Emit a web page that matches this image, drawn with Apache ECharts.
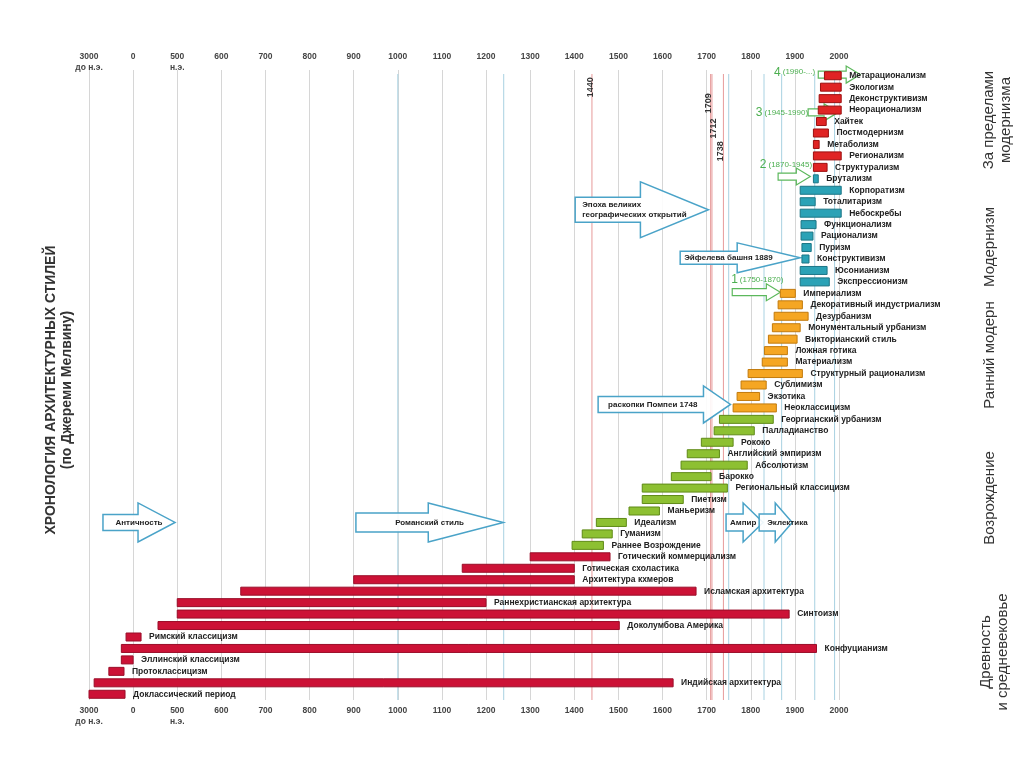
<!DOCTYPE html>
<html><head><meta charset="utf-8">
<script src="https://cdn.jsdelivr.net/npm/echarts@6/dist/echarts.min.js"></script>
<style>html,body{margin:0;padding:0;background:#fff}#c{width:1024px;height:767px}</style>
</head><body><div id="c"></div>
<script>
// ---------- DATA ----------
const tickYears = [-3000, 0, 500, 600, 700, 800, 900, 1000, 1100, 1200, 1300, 1400, 1500, 1600, 1700, 1800, 1900, 2000];
const tickLabels = ['3000\nдо н.э.', '0', '500\nн.э.', '600', '700', '800', '900', '1000', '1100', '1200', '1300', '1400', '1500', '1600', '1700', '1800', '1900', '2000'];

const groupNames = ['Древность\nи средневековье', 'Возрождение', 'Ранний модерн', 'Модернизм', 'За пределами\nмодернизма'];

// listed top to bottom
const styleNames = [
  'Метарационализм', 'Экологизм', 'Деконструктивизм', 'Неорационализм', 'Хайтек', 'Постмодернизм', 'Метаболизм', 'Регионализм', 'Структурализм',
  'Брутализм', 'Корпоратизм', 'Тоталитаризм', 'Небоскребы', 'Функционализм', 'Рационализм', 'Пуризм', 'Конструктивизм', 'Юсонианизм', 'Экспрессионизм',
  'Империализм', 'Декоративный индустриализм', 'Дезурбанизм', 'Монументальный урбанизм', 'Викторианский стиль', 'Ложная готика', 'Материализм', 'Структурный рационализм', 'Сублимизм', 'Экзотика', 'Неоклассицизм',
  'Георгианский урбанизм', 'Палладианство', 'Рококо', 'Английский эмпиризм', 'Абсолютизм', 'Барокко', 'Региональный классицизм', 'Пиетизм', 'Маньеризм', 'Идеализм', 'Гуманизм', 'Раннее Возрождение',
  'Готический коммерциализм', 'Готическая схоластика', 'Архитектура кхмеров', 'Исламская архитектура', 'Раннехристианская архитектура', 'Синтоизм', 'Доколумбова Америка', 'Римский классицизм', 'Конфуцианизм', 'Эллинский классицизм', 'Протоклассицизм', 'Индийская архитектура', 'Доклассический период'
];
const styleStart = [
  1967, 1958, 1955, 1953, 1949, 1942, 1942, 1942, 1942,
  1942, 1912, 1912, 1912, 1914, 1914, 1916, 1916, 1912, 1912,
  1867, 1862, 1853, 1849, 1840, 1831, 1826, 1794, 1778, 1769, 1760,
  1729, 1717, 1688, 1656, 1642, 1620, 1554, 1554, 1524, 1450, 1418, 1395,
  1300, 1146, 900, 644, 500, 500, 282, -480, -800, -800, -1650, -2650, -3000
];
const styleEnd = [
  2005, 2005, 2005, 2005, 1971, 1976, 1955, 2005, 1973,
  1953, 2005, 1946, 2005, 1948, 1941, 1937, 1932, 1973, 1978,
  1901, 1917, 1930, 1912, 1905, 1883, 1883, 1917, 1835, 1820, 1858,
  1851, 1808, 1760, 1729, 1792, 1710, 1747, 1647, 1593, 1518, 1486, 1466,
  1481, 1400, 1400, 1676, 1200, 1887, 1502, 90, 1949, 0, -620, 1624, -550
];
const styleGroup = [
  4, 4, 4, 4, 4, 4, 4, 4, 4,
  3, 3, 3, 3, 3, 3, 3, 3, 3, 3,
  2, 2, 2, 2, 2, 2, 2, 2, 2, 2, 2,
  1, 1, 1, 1, 1, 1, 1, 1, 1, 1, 1, 1,
  0, 0, 0, 0, 0, 0, 0, 0, 0, 0, 0, 0, 0
];

// marked years
const redLineYears = [1440, 1709, 1712, 1738];
const redLineLabelRows = [53.0, 51.6, 49.4, 47.4];
const blueLineYears = [1000, 1240, 1750, 1830, 1870, 1945, 1990];

// annotation arrows: text, start year, end year, row
const arrowTexts = ['Античность', 'Романский стиль', 'Эпоха великих\nгеографических открытий', 'Эйфелева башня 1889', 'раскопки Помпеи 1748', 'Ампир', 'Эклектика'];
const arrowStart = [-2050, 905, 1402, 1640, 1454, 1744, 1819];
const arrowEnd = [475, 1239, 1704, 1912, 1754, 1828, 1894];
const arrowRow = [15.0, 15.0, 42.3, 38.1, 25.3, 15.0, 15.0];

// period arrows (green)
const periodMain = ['4', '3', '2', '1'];
const periodSub = ['(1990-...)', '(1945-1990)', '(1870-1945)', '(1750-1870)'];
const periodArrowStart = [1953, 1930, 1862, 1758];
const periodArrowEnd = [2048, 1998, 1935, 1867];
const periodArrowRow = [54.1, 50.8, 45.2, 35.1];
const periodLabelYear = [1946, 1930, 1939, 1874];
const periodLabelRow = [54.3, 50.8, 46.2, 36.2];

// ---------- STYLE CONFIG ----------
const FONT = '"Liberation Sans", Arial, sans-serif';
const groupFill = ['#cc1236', '#8dc032', '#f5a623', '#2ba2b6', '#e02424'];
const groupStroke = ['#9a0d28', '#5f8a17', '#c27a0c', '#1b7585', '#9c1010'];
const redLineLabelShift = [-1, -2, 2, -3];
const arrowShape = [
  {bodyH: 16, headH: 39, headLen: 37, align: 'center'},
  {bodyH: 19, headH: 39, headLen: 75, align: 'center'},
  {bodyH: 25, headH: 56, headLen: 68, align: 'left', pad: 7},
  {bodyH: 13, headH: 30, headLen: 63, align: 'left', pad: 4},
  {bodyH: 16, headH: 37, headLen: 27, align: 'left', pad: 10},
  {bodyH: 17, headH: 39, headLen: 20, align: 'left', pad: 4},
  {bodyH: 17, headH: 39, headLen: 17, align: 'left', pad: 8}
];

function yearPos(y) {
  const t = tickYears;
  if (y <= t[0]) return (y - t[0]) / (t[1] - t[0]);
  for (let i = 0; i < t.length - 1; i++) {
    if (y <= t[i + 1]) return i + (y - t[i]) / (t[i + 1] - t[i]);
  }
  const n = t.length - 1;
  return n + (y - t[n]) / (t[n] - t[n - 1]);
}

const N = styleNames.length;
const barData = styleNames.map((n, i) => [yearPos(styleStart[i]), yearPos(styleEnd[i]), N - 1 - i, styleGroup[i]]);
const lineData = redLineYears.map((y, i) => [yearPos(y), redLineLabelRows[i], 1, String(y), redLineLabelShift[i]])
  .concat(blueLineYears.map(y => [yearPos(y), 0, 0, '', 0]));
const arrowData = arrowTexts.map((t, i) => [yearPos(arrowStart[i]), yearPos(arrowEnd[i]), arrowRow[i]]);
const periodData = periodMain.map((m, i) => [yearPos(periodArrowStart[i]), yearPos(periodArrowEnd[i]), periodArrowRow[i], yearPos(periodLabelYear[i]), periodLabelRow[i]]);

function arrowPoints(sx, ex, cy, bh, hh, hl) {
  const hs = ex - hl;
  return [[sx, cy - bh / 2], [hs, cy - bh / 2], [hs, cy - hh / 2], [ex, cy], [hs, cy + hh / 2], [hs, cy + bh / 2], [sx, cy + bh / 2]];
}

const chart = echarts.init(document.getElementById('c'), null, {renderer: 'canvas'});
const axisLabelBase = {
  fontFamily: FONT, fontSize: 8.5, fontWeight: 'bold', color: '#444', lineHeight: 11,
  interval: 0, formatter: v => tickLabels[Math.round(v)] || ''
};
chart.setOption({
  animation: false,
  backgroundColor: '#fff',
  grid: {left: 89, width: 750, top: 70, height: 630},
  xAxis: [
    {type: 'value', position: 'bottom', min: 0, max: 17, interval: 1,
     axisLine: {show: false}, axisTick: {show: false},
     splitLine: {show: true, lineStyle: {color: '#d6d6d6', width: 1}},
     axisLabel: Object.assign({margin: 5}, axisLabelBase)},
    {type: 'value', position: 'top', min: 0, max: 17, interval: 1,
     axisLine: {show: false}, axisTick: {show: false}, splitLine: {show: false},
     axisLabel: Object.assign({margin: 19, verticalAlign: 'top'}, axisLabelBase)}
  ],
  yAxis: {type: 'value', min: -0.5, max: 54.5, show: false},
  graphic: [
    {type: 'text', x: 51, y: 390, rotation: Math.PI / 2,
     style: {text: 'ХРОНОЛОГИЯ АРХИТЕКТУРНЫХ СТИЛЕЙ', align: 'center', verticalAlign: 'middle', fontFamily: FONT, fontSize: 14, fontWeight: 'bold', fill: '#333'}},
    {type: 'text', x: 67, y: 390, rotation: Math.PI / 2,
     style: {text: '(по Джереми Мелвину)', align: 'center', verticalAlign: 'middle', fontFamily: FONT, fontSize: 14, fontWeight: 'bold', fill: '#333'}},
    {type: 'text', x: 997, y: 120, rotation: Math.PI / 2,
     style: {text: groupNames[4], align: 'center', verticalAlign: 'middle', fontFamily: FONT, fontSize: 15, lineHeight: 17, fill: '#333'}},
    {type: 'text', x: 990, y: 247, rotation: Math.PI / 2,
     style: {text: groupNames[3], align: 'center', verticalAlign: 'middle', fontFamily: FONT, fontSize: 15, fill: '#333'}},
    {type: 'text', x: 990, y: 355, rotation: Math.PI / 2,
     style: {text: groupNames[2], align: 'center', verticalAlign: 'middle', fontFamily: FONT, fontSize: 15, fill: '#333'}},
    {type: 'text', x: 990, y: 498, rotation: Math.PI / 2,
     style: {text: groupNames[1], align: 'center', verticalAlign: 'middle', fontFamily: FONT, fontSize: 15, fill: '#333'}},
    {type: 'text', x: 994, y: 652, rotation: Math.PI / 2,
     style: {text: groupNames[0], align: 'center', verticalAlign: 'middle', fontFamily: FONT, fontSize: 15, lineHeight: 17, fill: '#333'}}
  ],
  series: [
    {
      type: 'custom', name: 'lines', z: 1, clip: false, silent: true,
      data: lineData,
      renderItem: (params, api) => {
        const top = api.coord([api.value(0), 54.5]);
        const bot = api.coord([api.value(0), -0.5]);
        const red = api.value(2) === 1;
        const children = [{type: 'line', shape: {x1: top[0], y1: top[1] + 4, x2: bot[0], y2: bot[1]},
          style: {stroke: red ? '#e69a9a' : '#a9d2e2', lineWidth: 1}}];
        if (red) {
          const lp = api.coord([api.value(0), api.value(1)]);
          children.push({type: 'text', x: lp[0] + api.value(4), y: lp[1], rotation: Math.PI / 2,
            style: {text: lineData[params.dataIndex][3], align: 'center', verticalAlign: 'middle',
              fontFamily: FONT, fontSize: 9, fontWeight: 'bold', fill: '#333'}});
        }
        return {type: 'group', children};
      }
    },
    {
      type: 'custom', name: 'arrows', z: 2, clip: false, silent: true,
      data: arrowData,
      renderItem: (params, api) => {
        const i = params.dataIndex;
        const s = api.coord([api.value(0), api.value(2)]);
        const e = api.coord([api.value(1), api.value(2)]);
        const sh = arrowShape[i];
        const pts = arrowPoints(s[0], e[0], s[1], sh.bodyH, sh.headH, sh.headLen);
        const tx = sh.align === 'center' ? (s[0] + e[0]) / 2 : s[0] + sh.pad;
        return {type: 'group', children: [
          {type: 'polygon', shape: {points: pts}, style: {fill: 'rgba(255,255,255,0.9)', stroke: '#4aa3c8', lineWidth: 1.5}},
          {type: 'text', style: {text: arrowTexts[i], x: tx, y: s[1], align: sh.align, verticalAlign: 'middle',
            fontFamily: FONT, fontSize: 8, fontWeight: 'bold', lineHeight: 10, fill: '#222'}}
        ]};
      }
    },
    {
      type: 'custom', name: 'periods', z: 3, clip: false, silent: true,
      data: periodData,
      renderItem: (params, api) => {
        const i = params.dataIndex;
        const s = api.coord([api.value(0), api.value(2)]);
        const e = api.coord([api.value(1), api.value(2)]);
        const l = api.coord([api.value(3), api.value(4)]);
        const pts = arrowPoints(s[0], e[0], s[1], 7, 17, 14);
        return {type: 'group', children: [
          {type: 'polygon', shape: {points: pts}, style: {fill: '#fff', stroke: '#5cb85c', lineWidth: 1.2}},
          {type: 'text', style: {text: '{a|' + periodMain[i] + '}{b|' + periodSub[i] + '}', x: l[0], y: l[1],
            align: 'right', verticalAlign: 'middle',
            rich: {a: {fontFamily: FONT, fontSize: 12, fill: '#4caf50', padding: [0, 2, 0, 0]},
                   b: {fontFamily: FONT, fontSize: 8, fill: '#4caf50'}}}}
        ]};
      }
    },
    {
      type: 'custom', name: 'styles', z: 5, clip: false, silent: true,
      data: barData,
      renderItem: (params, api) => {
        const i = params.dataIndex;
        const s = api.coord([api.value(0), api.value(2)]);
        const e = api.coord([api.value(1), api.value(2)]);
        const g = api.value(3);
        const h = 8;
        return {type: 'group', children: [
          {type: 'rect', shape: {x: s[0], y: s[1] - h / 2, width: e[0] - s[0], height: h},
           style: {fill: groupFill[g], stroke: groupStroke[g], lineWidth: 1}},
          {type: 'text', style: {text: styleNames[i], x: e[0] + 8, y: s[1], align: 'left', verticalAlign: 'middle',
            fontFamily: FONT, fontSize: 8.5, fontWeight: 'bold', fill: '#222'}}
        ]};
      }
    }
  ]
});
</script>
</body></html>
